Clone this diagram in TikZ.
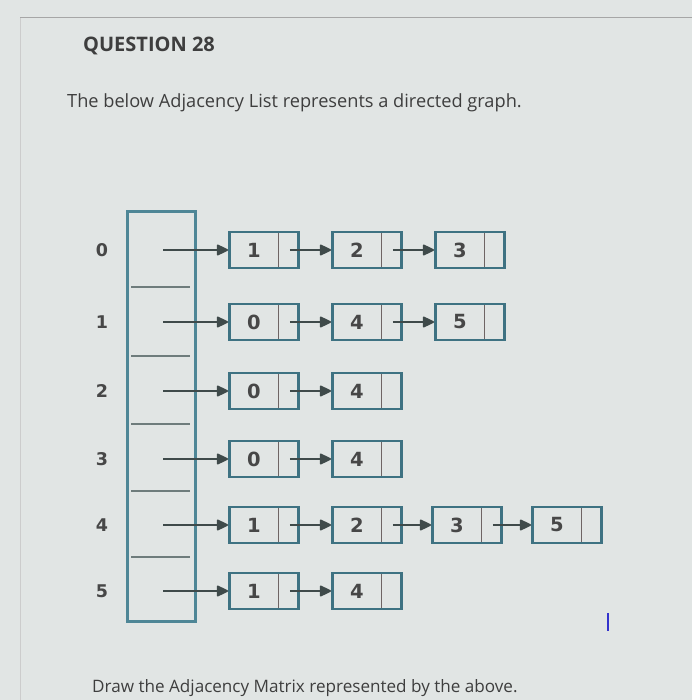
\documentclass[tikz,border=0pt]{standalone}
\usepackage{fontspec}
\setmainfont{Open Sans}
\newfontfamily\digf{DejaVu Sans}
\usetikzlibrary{arrows.meta}
\definecolor{bgc}{HTML}{E1E5E4}
\definecolor{boxc}{HTML}{3E7282}
\definecolor{arrc}{HTML}{4E8696}
\definecolor{linec}{HTML}{3F4A4A}
\definecolor{divc}{HTML}{6E6464}
\definecolor{celldiv}{HTML}{6E7C7C}
\definecolor{txtc}{HTML}{3E3E3E}
\definecolor{digc}{HTML}{474747}
\newcommand{\cv}[1]{\makebox[49pt]{\digf\bfseries\fontsize{19.5}{20}\selectfont #1}\makebox[20pt]{}}
\tikzset{
  cell/.style={draw=boxc, line width=2.8pt, rectangle, minimum width=69pt, minimum height=36pt,
    inner sep=0pt, text=digc, anchor=west,
    path picture={\draw[divc, line width=1.8pt] ([xshift=49pt]path picture bounding box.north west) -- ([xshift=49pt]path picture bounding box.south west);}},
  ptr/.style={linec, line width=1.9pt, -{Triangle[length=12.5pt,width=11.5pt,round]}},
  idx/.style={text=digc, font=\digf\bfseries\fontsize{17.5}{18}\selectfont},
  ttl/.style={text=txtc, anchor=base west, inner sep=0pt},
  arrbox/.style={draw=arrc, line width=2.8pt},
  adiv/.style={celldiv, line width=1.8pt}
}
\begin{document}
\begin{tikzpicture}[x=1pt,y=-1pt]
\fill[bgc] (0,0) rectangle (692,700);
\useasboundingbox (0,0) rectangle (692,700);
\draw[gray!70, line width=1pt] (20,18) -- (692,18);
\draw[gray!40, line width=0.8pt] (20,18) -- (20,700);
\node[ttl, font=\bfseries\fontsize{20}{24}\selectfont] (q) at (83,52) {QUESTION 28};
\node[ttl, font=\fontsize{18.2}{22}\selectfont] (t1) at (67,108) {The below Adjacency List represents a directed graph.};
\node[ttl, font=\fontsize{17.1}{20}\selectfont] (t2) at (92,692) {Draw the Adjacency Matrix represented by the above.};
% array
\node[arrbox, rectangle, minimum width=68pt, minimum height=410pt, anchor=north west, inner sep=0pt] (arr) at (126,210) {};
\foreach \yy/\nm in {287/d1,356/d2,424/d3,491/d4,557/d5}{
  \coordinate (\nm a) at (131,\yy); \coordinate (\nm b) at (190,\yy);
  \draw[adiv] (\nm a) -- (\nm b);
}
% row labels and pointers
\foreach \r/\yy in {0/250,1/322,2/391,3/459,4/525,5/591}{
  \node[idx] (l\r) at (102,\yy) {\r};
  \coordinate (p\r) at (163,\yy);
}
% rows
\node[cell] (b00) at (228,250) {\cv{1}};
\node[cell] (b01) at (331,250) {\cv{2}};
\node[cell] (b02) at (434,250) {\cv{3}};
\node[cell] (b10) at (228,322) {\cv{0}};
\node[cell] (b11) at (331,322) {\cv{4}};
\node[cell] (b12) at (434,322) {\cv{5}};
\node[cell] (b20) at (228,391) {\cv{0}};
\node[cell] (b21) at (331,391) {\cv{4}};
\node[cell] (b30) at (228,459) {\cv{0}};
\node[cell] (b31) at (331,459) {\cv{4}};
\node[cell] (b40) at (228,525) {\cv{1}};
\node[cell] (b41) at (331,525) {\cv{2}};
\node[cell] (b42) at (431,525) {\cv{3}};
\node[cell] (b43) at (531,525) {\cv{5}};
\node[cell] (b50) at (228,591) {\cv{1}};
\node[cell] (b51) at (331,591) {\cv{4}};
\foreach \r in {0,...,5}{ \draw[ptr] (p\r) -- (b\r0.west); }
\draw[ptr] ([xshift=-10pt]b00.east) -- (b01.west);
\draw[ptr] ([xshift=-10pt]b01.east) -- (b02.west);
\draw[ptr] ([xshift=-10pt]b10.east) -- (b11.west);
\draw[ptr] ([xshift=-10pt]b11.east) -- (b12.west);
\draw[ptr] ([xshift=-10pt]b20.east) -- (b21.west);
\draw[ptr] ([xshift=-10pt]b30.east) -- (b31.west);
\draw[ptr] ([xshift=-10pt]b40.east) -- (b41.west);
\draw[ptr] ([xshift=-10pt]b41.east) -- (b42.west);
\draw[ptr] ([xshift=-10pt]b42.east) -- (b43.west);
\draw[ptr] ([xshift=-10pt]b50.east) -- (b51.west);
% cursor
\coordinate (c1) at (608,613); \coordinate (c2) at (608,631);
\draw[blue!60!gray, line width=1.8pt] (c1) -- (c2);
\end{tikzpicture}
\end{document}
